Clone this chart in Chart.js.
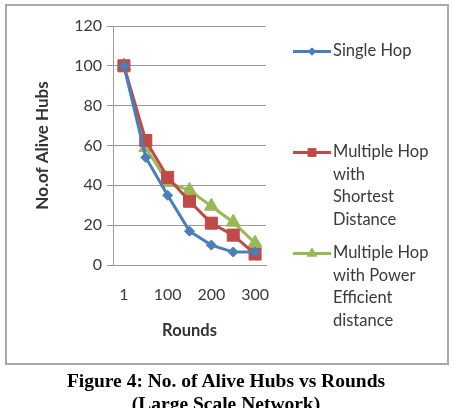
<!DOCTYPE html>
<html>
<head>
<meta charset="utf-8">
<script src="https://cdn.jsdelivr.net/npm/chart.js@4/dist/chart.umd.min.js"></script>
<style>
  html, body { margin: 0; padding: 0; background: #fff; width: 457px; height: 408px; overflow: hidden; }
  #frame { position: absolute; left: 5px; top: 4px; width: 440px; height: 357px; border: 2px solid #a9a9a9; }
  #c { position: absolute; left: 0; top: 0; }
  .leg { position: absolute; left: 293px; font-family: Lato, "Open Sans", sans-serif; font-size: 16.5px; color: #3a3a3a; line-height: 22.5px; }
  .leg .txt { position: absolute; left: 40px; top: 0; white-space: nowrap; }
  .caption { position: absolute; left: 0; width: 452px; text-align: center; font-family: "Liberation Serif", "Times New Roman", serif; font-weight: bold; font-size: 19.5px; color: #000; line-height: 23px; }
</style>
</head>
<body>
<div id="frame"></div>
<canvas id="c" width="457" height="408"></canvas>
<div id="legend"></div>
<div class="caption" style="top:369px">Figure 4: No. of Alive Hubs vs Rounds<br>(Large Scale Network)</div>
<script>
const categories = ["1", "50", "100", "150", "200", "250", "300"];
const singleHop = [100, 54, 35, 17, 10, 6.5, 6.5];
const multiShortest = [100, 62.5, 44, 32, 21, 15, 5.5];
const multiPower = [100, 59, 41.5, 37.5, 29.5, 21.5, 11];
const seriesNames = [["Single Hop"], ["Multiple Hop", "with", "Shortest", "Distance"], ["Multiple Hop", "with Power", "Efficient", "distance"]];
const yTicks = [0, 20, 40, 60, 80, 100, 120];

const colors = ["#4a7ebb", "#be4b48", "#98b954"];
const shapes = ["rectRot", "rect", "triangle"];
const radii = [5, 8.5, 8];

const ctx = document.getElementById('c').getContext('2d');
const chart = new Chart(ctx, {
  type: 'line',
  data: {
    labels: categories,
    datasets: [singleHop, multiShortest, multiPower].map((d, i) => ({
      label: seriesNames[i].join(' '),
      data: d,
      borderColor: colors[i],
      backgroundColor: colors[i],
      borderWidth: 3,
      pointStyle: shapes[i],
      pointRadius: radii[i],
      pointBorderWidth: 1,
      pointBorderColor: colors[i],
      pointBackgroundColor: colors[i],
      tension: 0
    }))
  },
  options: {
    responsive: false,
    animation: false,
    layout: { padding: { left: 8, right: 191, top: 26, bottom: 60 } },
    plugins: { legend: { display: false }, tooltip: { enabled: false } },
    scales: {
      x: {
        offset: true,
        grid: { display: false, drawTicks: false },
        border: { display: true, color: '#9a9a9a', width: 1 },
        ticks: {
          autoSkip: false, maxRotation: 0, padding: 20,
          color: '#3a3a3a', font: { family: 'Lato', size: 16 },
          callback: function(v, i) { return i % 2 === 0 ? categories[i] : ''; }
        },
        title: { display: true, text: 'Rounds', color: '#333', font: { family: 'Lato', size: 16.5, weight: 'bold' }, padding: { top: 0, bottom: 7 } },
        afterFit: s => { s.height = 83; }
      },
      y: {
        min: 0, max: 120,
        afterBuildTicks: s => { s.ticks = yTicks.map(v => ({ value: v })); },
        grid: { color: '#9a9a9a', lineWidth: 1, drawTicks: true, tickLength: 6, tickColor: '#9a9a9a' },
        border: { display: true, color: '#9a9a9a', width: 1 },
        ticks: { padding: 5, color: '#3a3a3a', font: { family: 'Lato', size: 16 } },
        title: { display: true, text: 'No.of Alive Hubs', color: '#333', font: { family: 'Lato', size: 17, weight: 'bold' }, padding: { top: 24, bottom: 0 } },
        afterFit: s => { s.width = 105; }
      }
    }
  }
});

// HTML legend built from the series names
const legendTops = [39, 140, 241];
const legend = document.getElementById('legend');
seriesNames.forEach((lines, i) => {
  const item = document.createElement('div');
  item.className = 'leg';
  item.style.top = legendTops[i] + 'px';
  const sample = document.createElement('canvas');
  sample.width = 40; sample.height = 20;
  sample.style.position = 'absolute'; sample.style.left = '0px'; sample.style.top = '2px';
  const sc = sample.getContext('2d');
  sc.strokeStyle = colors[i]; sc.lineWidth = 3;
  sc.beginPath(); sc.moveTo(0, 10.5); sc.lineTo(38, 10.5); sc.stroke();
  sc.fillStyle = colors[i];
  Chart.helpers.drawPoint(sc, { pointStyle: shapes[i], radius: i === 0 ? 4 : 6, borderWidth: 0 }, 19, 10.5);
  sc.fill();
  item.appendChild(sample);
  const t = document.createElement('div');
  t.className = 'txt';
  t.innerHTML = lines.join('<br>');
  item.appendChild(t);
  legend.appendChild(item);
});
</script>
</body>
</html>
